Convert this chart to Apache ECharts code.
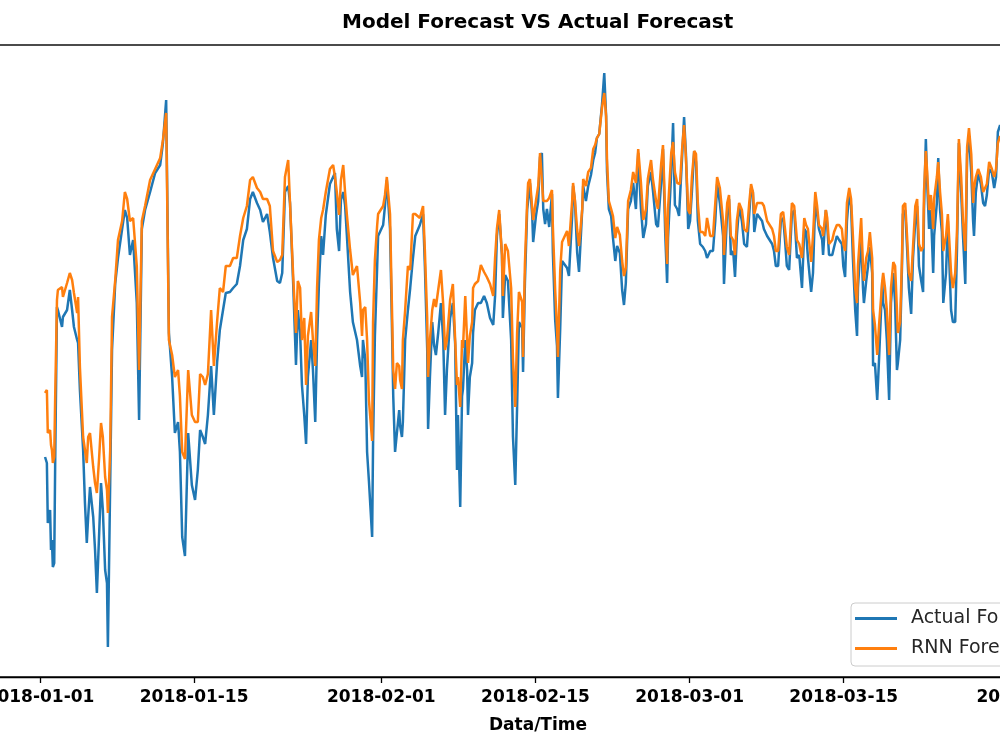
<!DOCTYPE html>
<html>
<head>
<meta charset="utf-8">
<script src="https://cdn.jsdelivr.net/npm/echarts@6/dist/echarts.min.js"></script>
<style>
html,body{margin:0;padding:0;background:#fff;}
#chart{width:1000px;height:750px;}
</style>
</head>
<body>
<div id="chart"></div>
<script>
// Hours since 2018-01-01 00:00 for each reading
const hours = [
11,15,17,22,24,26,28,31,33,37,39,48,50,59,65,70,74,81,83,87,94,98,102,105,109,116,120,124,129,133,137,142,146,148,153,157,164,
170,179,185,190,196,203,211,216,222,229,240,251,262,268,275,281,288,294,301,305,310,316,323,331,338,344,
349,355,360,366,373,379,386,392,399,405,414,421,429,436,443,451,458,464,473,480,486,495,501,508,517,523,528,534,541,545,552,558,562,567,571,576,580,584,591,595,600,604,608,613,617,623,632,639,643,647,652,656,661,665,669,676,682,691,698,
702,704,709,713,717,724,726,730,735,737,741,748,752,756,763,767,770,774,778,783,785,789,791,796,802,807,813,818,822,828,835,839,844,846,850,855,859,863,868,874,879,883,887,894,900,905,909,911,916,920,922,927,931,933,937,942,944,948,955,961,968,974,981,988,992,996,1001,1007,1009,1014,1020,1027,1031,1036,1040,1044,
1046,1051,1053,1057,1062,1064,1068,1073,1075,1081,1086,1090,1094,1097,1101,1105,1110,1116,1118,1123,1127,1129,1134,1138,1142,1149,1153,1160,1162,1166,1171,1175,1182,1184,1190,1195,1201,1206,1210,1214,1219,1225,1230,1234,1236,1240,1245,1249,1254,1258,1264,1269,1273,1277,1282,1288,1293,1299,1304,1310,1315,1321,1325,1332,1336,1343,1347,1354,1358,1363,1367,1369,1376,1380,1384,1389,1393,
1395,1400,1404,1408,1413,1417,1421,1426,1430,1434,1439,1445,1450,1454,1461,1467,1472,1476,1482,1489,1491,1498,1502,1506,1511,1515,1519,1524,1530,1535,1541,1546,1550,1554,1557,1563,1567,1574,1578,1585,1589,1596,1600,1604,1609,1615,1620,1624,1628,1633,1639,1644,1650,1655,1661,1666,1670,1674,1681,1685,1690,1694,1698,1705,1707,1713,1716,1720,1727,1731,1737,1742,
1748,1751,1755,1759,1764,1768,1772,1777,1781,1783,1790,1794,1796,1801,1805,1809,1814,1816,1820,1825,1829,1836,1838,1842,1846,1851,1855,1860,1864,1868,1870,1875,1879,1881,1886,1890,1894,1899,1903,1908,1912,1916,1921,1925,1927,1931,1934,1938,1942,1947,1949,1955,1958,1962,1966,1969,1975,1979,1986,1990,1995,1999,2003,2008,2012,2017,2021,2025,2030,2034,2036,2040,2045,2051,2056,2060,2064,2069,2075,2080,2084,2088,2093
];

const actual = [
220,214,154,167,127,137,110,114,210,370,367,350,360,367,387,367,350,337,334,287,227,174,134,160,190,160,127,84,144,194,167,107,94,30,194,327,394,
419,448,467,459,422,437,374,257,448,467,485,504,512,534,577,344,300,244,255,225,140,121,244,192,177,207,
247,240,233,262,311,262,314,347,367,384,385,389,393,411,437,448,478,485,474,467,455,463,445,419,396,394,404,485,491,474,392,312,367,344,292,262,233,300,337,307,255,337,393,441,422,462,493,500,504,448,426,477,485,472,441,385,355,337,311,
300,337,318,225,196,140,233,341,411,441,445,452,471,497,448,355,281,225,244,267,251,240,255,337,367,389,419,441,441,452,463,411,329,248,300,355,332,322,344,374,337,262,307,359,374,333,207,262,170,281,288,337,307,262,300,314,344,367,374,374,381,374,359,352,381,441,463,422,359,402,396,337,240,192,270,355,
353,349,305,394,468,476,494,461,435,461,476,520,524,468,453,468,450,483,424,357,331,279,349,416,416,409,401,461,491,476,424,405,468,491,476,491,502,517,524,539,543,572,604,561,505,468,461,439,416,431,424,387,372,394,468,476,494,468,524,468,439,453,491,505,487,453,450,494,528,442,394,439,505,554,472,468,461,
459,523,560,523,448,456,485,526,515,456,433,430,426,419,426,426,456,493,474,441,393,467,478,422,426,400,441,471,456,433,430,463,489,485,445,463,463,456,448,441,441,433,426,411,411,456,459,437,411,407,463,467,419,422,389,448,445,419,385,404,478,463,448,437,422,467,452,422,422,430,441,437,
433,411,400,456,485,471,419,367,341,389,441,389,374,396,411,430,404,311,314,277,318,396,374,367,337,277,374,404,374,307,314,337,411,463,467,430,389,363,419,456,471,411,396,385,467,538,493,448,467,404,441,474,519,467,445,374,404,456,367,355,355,430,534,485,441,393,523,541,504,456,441,485,504,493,474,471,482,508,504,489,500,545,552
];

const forecast = [
284,287,244,247,232,227,214,220,277,377,387,390,380,394,404,397,384,364,380,310,240,227,214,240,244,210,194,184,220,254,240,200,187,164,227,360,397,
437,456,485,478,456,459,411,307,456,471,497,508,519,537,564,337,322,300,307,281,225,218,307,262,255,255,
303,300,292,303,367,311,355,389,385,411,411,419,419,441,459,471,497,500,489,485,478,478,471,426,415,417,422,500,517,474,400,344,396,389,337,359,292,341,365,337,311,389,437,459,467,485,508,512,500,485,462,497,512,485,462,427,402,411,374,
341,367,370,337,277,236,355,417,452,463,463,471,482,500,463,374,307,288,314,311,297,288,337,367,411,407,463,463,463,459,471,426,359,300,337,367,378,370,387,407,372,327,337,377,393,337,292,300,270,337,329,381,337,314,341,355,389,393,396,412,405,400,393,381,419,448,467,422,381,433,426,389,318,270,344,385,
387,375,320,413,476,494,498,468,457,476,491,524,524,476,476,476,479,487,450,387,349,320,407,435,439,446,431,476,494,477,447,431,468,498,491,505,509,528,532,539,543,569,584,561,517,476,468,461,439,450,442,416,401,409,476,487,505,494,528,494,457,468,498,517,498,476,468,513,532,461,413,468,524,535,505,494,494,
493,530,552,519,467,463,500,526,523,474,445,445,441,459,441,441,474,500,489,456,422,474,482,441,437,422,456,474,467,448,445,474,493,485,463,474,476,474,471,456,456,448,441,426,426,463,465,448,430,422,474,471,437,433,419,459,452,448,415,441,485,471,452,448,441,467,459,433,437,445,452,452,
448,433,426,474,489,478,441,389,374,411,459,411,396,419,426,445,419,367,352,322,352,396,404,389,367,322,389,415,411,367,344,355,419,471,474,441,404,396,430,471,478,433,426,430,485,526,504,467,482,448,478,500,515,485,463,426,441,463,404,389,404,448,538,500,456,426,530,549,523,474,489,500,508,500,485,485,493,515,508,500,508,534,541
];

const tickDates = ['2018-01-01','2018-01-15','2018-02-01','2018-02-15','2018-03-01','2018-03-15','2018-04-01'];
const seriesNames = ['Actual Forecast', 'RNN Forecast'];
const titleText = 'Model Forecast VS Actual Forecast';
const xName = 'Data/Time';

function parseDay(s){ const p = s.split('-').map(Number); return new Date(p[0], p[1]-1, p[2]).getTime(); }
const T0 = parseDay('2018-01-01');
const HOUR = 3600000, DAY = 86400000;
const tickValues = tickDates.map(parseDay);
const pad = n => (n < 10 ? '0' : '') + n;
function fmt(v){ const d = new Date(v); return d.getFullYear() + '-' + pad(d.getMonth()+1) + '-' + pad(d.getDate()); }

const actualData = hours.map((h, i) => [T0 + h * HOUR, actual[i]]);
const forecastData = hours.map((h, i) => [T0 + h * HOUR, forecast[i]]);

// layout: 11.01 px per day, 2018-01-01 at x=40; plot area spans -60 .. 1136 (centre 538)
const pxPerDay = 11.01;
const gridLeft = -60, gridRight = -136, originX = 40, chartW = 1000;
const xMin = T0 + (gridLeft - originX) / pxPerDay * DAY;
const xMax = T0 + (chartW - gridRight - originX) / pxPerDay * DAY;

const FONT = 'DejaVu Sans';
const chart = echarts.init(document.getElementById('chart'), null, {renderer: 'canvas'});
chart.setOption({
  animation: false,
  backgroundColor: '#fff',
  title: {
    text: titleText,
    left: 342, top: 13, padding: 0,
    textStyle: {fontFamily: FONT, fontSize: 20, fontWeight: 'bold', color: '#000'}
  },
  legend: {
    data: seriesNames,
    orient: 'vertical',
    left: 851, top: 603,
    padding: [6, 8, 8, 4],
    itemGap: 11,
    itemWidth: 42, itemHeight: 3,
    icon: 'rect',
    borderColor: '#cccccc', borderWidth: 1, borderRadius: 4,
    backgroundColor: 'rgba(255,255,255,0.8)',
    textStyle: {fontFamily: FONT, fontSize: 19, color: '#262626', padding: [0, 0, 0, 9], lineHeight: 18}
  },
  grid: {
    left: gridLeft, right: gridRight, top: 45, bottom: 73,
    outerBoundsMode: 'none', containLabel: false,
    show: true, borderColor: '#111', borderWidth: 1.3, backgroundColor: 'transparent'
  },
  xAxis: {
    type: 'value',
    min: xMin, max: xMax,
    name: xName, nameLocation: 'middle', nameGap: 40,
    nameTextStyle: {fontFamily: FONT, fontSize: 17, fontWeight: 'bold', color: '#000'},
    axisLine: {show: true, lineStyle: {color: '#000', width: 1.3}},
    axisTick: {show: true, length: 6, lineStyle: {color: '#000', width: 1.3}, customValues: tickValues},
    axisLabel: {
      customValues: tickValues,
      formatter: v => fmt(v),
      fontFamily: FONT, fontSize: 17, fontWeight: 'bold', color: '#000', margin: 12,
      hideOverlap: false
    },
    splitLine: {show: false}
  },
  yAxis: {
    type: 'value', min: 0, max: 632, show: false, splitLine: {show: false}
  },
  series: [
    {name: seriesNames[0], type: 'line', data: actualData, showSymbol: false, symbol: 'none',
     lineStyle: {color: '#1f77b4', width: 2.5}, itemStyle: {color: '#1f77b4'}, z: 2},
    {name: seriesNames[1], type: 'line', data: forecastData, showSymbol: false, symbol: 'none',
     lineStyle: {color: '#ff7f0e', width: 2.5}, itemStyle: {color: '#ff7f0e'}, z: 3}
  ]
});
</script>
</body>
</html>
